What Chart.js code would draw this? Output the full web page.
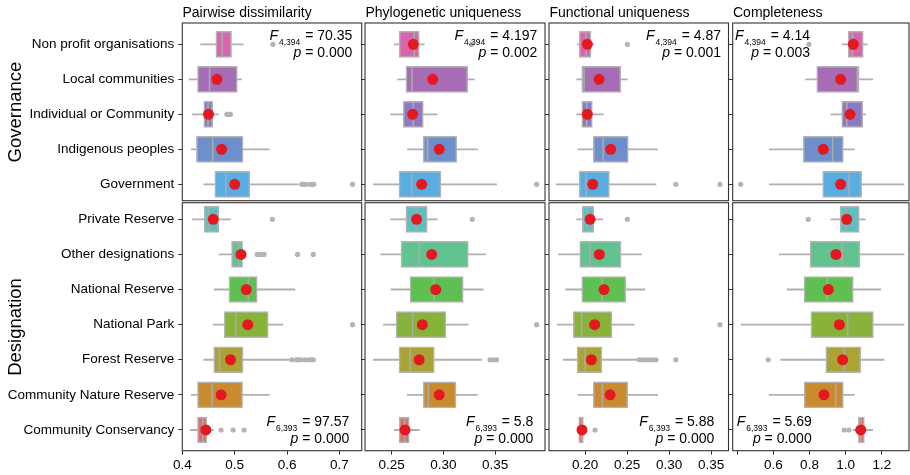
<!DOCTYPE html>
<html>
<head>
<meta charset="utf-8">
<script src="https://cdn.jsdelivr.net/npm/chart.js@4.4.1/dist/chart.umd.min.js"></script>
<style>
html,body{margin:0;padding:0;background:#fff;overflow:hidden;}
#wrap{position:relative;width:910px;height:475px;overflow:hidden;font-family:"Liberation Sans",Arial,Helvetica,sans-serif;color:#000;}
#wrap canvas{position:absolute;left:0;top:0;}
.title{position:absolute;top:4px;font-size:14px;line-height:16px;white-space:nowrap;z-index:5;}
.rowlab{position:absolute;font-size:18.5px;line-height:22px;white-space:nowrap;transform:translate(-50%,-50%) rotate(-90deg);z-index:5;}
.ann{position:absolute;font-size:14px;line-height:17px;text-align:right;white-space:nowrap;z-index:5;}
.ann i{font-style:italic;}
.ann .s{font-size:8.5px;position:relative;top:5px;line-height:0;margin-left:1px;margin-right:1px;}
</style>
</head>
<body>
<div id="wrap">
  <div class="title" style="left:182.5px">Pairwise dissimilarity</div>
  <div class="title" style="left:365.5px">Phylogenetic uniqueness</div>
  <div class="title" style="left:549.5px">Functional uniqueness</div>
  <div class="title" style="left:733px">Completeness</div>
  <div class="rowlab" style="left:15px;top:111.7px">Governance</div>
  <div class="rowlab" style="left:15px;top:327px">Designation</div>

  <div class="ann" style="right:557.7px;top:26.5px"><i>F</i><span class="s">4,394</span> = 70.35<br><i>p</i> = 0.000</div>
  <div class="ann" style="right:372.7px;top:26.5px"><i>F</i><span class="s">4,394</span> = 4.197<br><i>p</i> = 0.002</div>
  <div class="ann" style="right:189px;top:26.5px"><i>F</i><span class="s">4,394</span> = 4.87<br><i>p</i> = 0.001</div>
  <div class="ann" style="right:100px;top:26.5px"><i>F</i><span class="s">4,394</span> = 4.14<br><i>p</i> = 0.003</div>

  <div class="ann" style="right:560.7px;top:412.5px"><i>F</i><span class="s">6,393</span> = 97.57<br><i>p</i> = 0.000</div>
  <div class="ann" style="right:376.7px;top:412.5px"><i>F</i><span class="s">6,393</span> = 5.8<br><i>p</i> = 0.000</div>
  <div class="ann" style="right:195.7px;top:412.5px"><i>F</i><span class="s">6,393</span> = 5.88<br><i>p</i> = 0.000</div>
  <div class="ann" style="right:98.3px;top:412.5px"><i>F</i><span class="s">6,393</span> = 5.69<br><i>p</i> = 0.000</div>
</div>
<script>
// ---------- categories ----------
const governance = ['Non profit organisations','Local communities','Individual or Community','Indigenous peoples','Government'];
const designation = ['Private Reserve','Other designations','National Reserve','National Park','Forest Reserve','Community Nature Reserve','Community Conservancy'];

// ---------- tick labels ----------
const pairwiseTicks = [0.4, 0.5, 0.6, 0.7];
const phyloTicks = [0.25, 0.30, 0.35];
const functionalTicks = [0.20, 0.25, 0.30, 0.35];
const completenessTicks = [0.4, 0.6, 0.8, 1.0, 1.2];

// ---------- data: [lower whisker, Q1, median, Q3, upper whisker] ----------
const pairwiseGovStats = [[0.435,0.464,0.476,0.494,0.516],[0.413,0.429,0.452,0.505,0.513],[0.419,0.441,0.449,0.458,0.469],[0.417,0.427,0.458,0.516,0.566],[0.441,0.462,0.483,0.529,0.621]];
const pairwiseGovMeans = [null,0.466,0.450,0.475,0.500];
const pairwiseGovOutliers = [[0.573],[],[0.485,0.488,0.490,0.492],[],[0.628,0.632,0.636,0.644,0.648,0.651,0.725]];

const pairwiseDesStats = [[0.419,0.442,0.450,0.470,0.492],[0.470,0.494,0.507,0.515,0.518],[0.461,0.489,0.526,0.543,0.615],[0.459,0.480,0.502,0.564,0.592],[0.441,0.460,0.471,0.516,0.604],[0.417,0.429,0.457,0.515,0.566],[0.415,0.429,0.439,0.447,0.459]];
const pairwiseDesMeans = [0.459,0.512,0.522,0.525,0.492,0.474,0.445];
const pairwiseDesOutliers = [[0.572],[0.543,0.548,0.552,0.556,0.620,0.650],[],[0.725],[0.609,0.618,0.622,0.626,0.634,0.642,0.646,0.650],[],[0.474,0.497,0.518]];

const phyloGovStats = [[0.2525,0.2573,0.2719,0.2767,0.2815],[0.2558,0.2638,0.2696,0.3235,0.3299],[0.2490,0.2612,0.2709,0.2806,0.2941],[0.2651,0.2806,0.2848,0.3129,0.3332],[0.2322,0.2571,0.2693,0.2977,0.3515]];
const phyloGovMeans = [0.2709,0.2897,0.2703,0.2960,0.2790];
const phyloGovOutliers = [[0.3274],[],[],[],[0.3902]];

const phyloDesStats = [[0.2490,0.2638,0.2735,0.2844,0.2941],[0.2394,0.2590,0.2767,0.3241,0.3409],[0.2493,0.2677,0.2909,0.3192,0.3386],[0.2419,0.2542,0.2703,0.3025,0.3241],[0.2322,0.2571,0.2677,0.2912,0.3370],[0.2651,0.2806,0.2854,0.3122,0.3328],[0.2525,0.2573,0.2625,0.2670,0.2767]];
const phyloDesMeans = [0.2741,0.2887,0.2926,0.2796,0.2766,0.2960,0.2629];
const phyloDesOutliers = [[0.3280],[],[],[0.3902],[0.3451,0.3483,0.3515],[],[]];

const functionalGovStats = [[0.1908,0.1932,0.2012,0.2071,0.2099],[0.1901,0.1961,0.1988,0.2425,0.2504],[0.1901,0.1961,0.2020,0.2087,0.2218],[0.1917,0.2099,0.2214,0.2515,0.2865],[0.1658,0.1930,0.2012,0.2290,0.2845]];
const functionalGovMeans = [0.2027,0.2167,0.2027,0.2306,0.2092];
const functionalGovOutliers = [[0.2504],[],[],[],[0.3080,0.3607]];

const functionalDesStats = [[0.1901,0.1968,0.2032,0.2104,0.2211],[0.1682,0.1937,0.2060,0.2429,0.2675],[0.1770,0.1961,0.2202,0.2485,0.2714],[0.1670,0.1861,0.1961,0.2321,0.2587],[0.1742,0.1905,0.2000,0.2202,0.2615],[0.1917,0.2099,0.2206,0.2508,0.2865],[0.1915,0.1925,0.1961,0.1980,0.1990]];
const functionalDesMeans = [0.2060,0.2170,0.2226,0.2115,0.2075,0.2298,0.1964];
const functionalDesOutliers = [[0.2504],[],[],[0.3607],[0.2646,0.2687,0.2726,0.2766,0.2806,0.2845,0.3080],[],[0.2119]];

const completenessGovStats = [[0.981,1.014,1.037,1.097,1.119],[0.779,0.840,1.064,1.074,1.149],[0.919,0.978,1.006,1.094,1.111],[0.578,0.766,0.928,0.987,1.048],[0.578,0.873,1.018,1.088,1.322]];
const completenessGovMeans = [1.042,0.972,1.024,0.876,0.972];
const completenessGovOutliers = [[0.797],[],[],[],[0.420]];

const completenessDesStats = [[0.919,0.969,1.002,1.075,1.107],[0.633,0.803,0.981,1.079,1.322],[0.677,0.770,0.898,1.042,1.193],[0.422,0.808,1.011,1.153,1.322],[0.641,0.890,0.992,1.083,1.212],[0.578,0.771,0.945,0.987,1.048],[1.042,1.070,1.085,1.103,1.149]];
const completenessDesMeans = [1.006,0.946,0.904,0.965,0.983,0.880,1.083];
const completenessDesOutliers = [[0.793],[],[],[],[0.572],[],[0.992,1.018]];

// ---------- styling / layout ----------
const govColors = ['#d965ae','#a66db4','#8b7bc4','#6e8fcb','#58ade2'];
const desColors = ['#5ebfc1','#61c38f','#60bf52','#87b33a','#aaa437','#c98a30','#e06c6c'];
const colX = [[182.3,361.7],[365,545],[549,728.5],[732.7,909]];
const rowY = [[23,200.7],[202.7,450.7]];
const rowRange = [[-0.609,4.468],[-0.473,6.59]];
const colRange = [[0.4,0.7424],[0.2242,0.3983],[0.1571,0.3708],[0.3757,1.3497]];

const panels = [
  {col:0,row:0,cats:governance,colors:govColors,stats:pairwiseGovStats,means:pairwiseGovMeans,outs:pairwiseGovOutliers,ticks:pairwiseTicks,fmt:v=>v.toFixed(1)},
  {col:1,row:0,cats:governance,colors:govColors,stats:phyloGovStats,means:phyloGovMeans,outs:phyloGovOutliers,ticks:phyloTicks,fmt:v=>v.toFixed(2)},
  {col:2,row:0,cats:governance,colors:govColors,stats:functionalGovStats,means:functionalGovMeans,outs:functionalGovOutliers,ticks:functionalTicks,fmt:v=>v.toFixed(2)},
  {col:3,row:0,cats:governance,colors:govColors,stats:completenessGovStats,means:completenessGovMeans,outs:completenessGovOutliers,ticks:completenessTicks,fmt:v=>v<0.5?'':v.toFixed(1)},
  {col:0,row:1,cats:designation,colors:desColors,stats:pairwiseDesStats,means:pairwiseDesMeans,outs:pairwiseDesOutliers,ticks:pairwiseTicks,fmt:v=>v.toFixed(1)},
  {col:1,row:1,cats:designation,colors:desColors,stats:phyloDesStats,means:phyloDesMeans,outs:phyloDesOutliers,ticks:phyloTicks,fmt:v=>v.toFixed(2)},
  {col:2,row:1,cats:designation,colors:desColors,stats:functionalDesStats,means:functionalDesMeans,outs:functionalDesOutliers,ticks:functionalTicks,fmt:v=>v.toFixed(2)},
  {col:3,row:1,cats:designation,colors:desColors,stats:completenessDesStats,means:completenessDesMeans,outs:completenessDesOutliers,ticks:completenessTicks,fmt:v=>v<0.5?'':v.toFixed(1)}
];

Chart.defaults.font.family = '"Liberation Sans", Arial, Helvetica, sans-serif';

const frame = {
  id:'frame',
  afterDraw(c){
    const a=c.chartArea, x=c.ctx;
    x.save(); x.strokeStyle='#333'; x.lineWidth=1.1;
    x.strokeRect(a.left,a.top,a.right-a.left,a.bottom-a.top);
    x.restore();
  }
};

const wrap = document.getElementById('wrap');

function build(p){
  const cv=document.createElement('canvas'); cv.width=910; cv.height=475;
  wrap.appendChild(cv);
  const [L,R]=colX[p.col], [T,B]=rowY[p.row], [ymin,ymax]=rowRange[p.row], [xmin,xmax]=colRange[p.col];
  const yW = p.col===0 ? L : 10;
  const xH = p.row===1 ? 24 : 0;
  const whiskers = p.stats.map((s,i)=>({x:[s[0],s[4]], y:i}));
  const boxes = p.stats.map((s,i)=>({x:[s[1],s[3]], y:i}));
  const medians = p.stats.map((s,i)=>({x:s[2], y:i}));
  const outliers = p.outs.flatMap((o,i)=>o.map(v=>({x:v, y:i})));
  const means = p.means.map((m,i)=>m==null?null:{x:m, y:i}).filter(d=>d);
  const noPad = s=>{s.paddingLeft=0;s.paddingRight=0;s.paddingTop=0;s.paddingBottom=0;};
  new Chart(cv,{
    type:'bar',
    data:{datasets:[
      {type:'bar', indexAxis:'y', data:whiskers, backgroundColor:'#b0b0b0', barThickness:1.2, grouped:false, order:5},
      {type:'bar', indexAxis:'y', data:boxes, backgroundColor:p.colors, borderColor:'#b4b4b4', borderWidth:1.5, borderSkipped:false, barThickness:26, grouped:false, order:4},
      {type:'scatter', data:medians, pointStyle:'line', pointRotation:90, pointRadius:12.5, pointBorderColor:'#ababab', pointBorderWidth:1.6, order:3},
      {type:'scatter', data:outliers, pointRadius:2.6, pointBackgroundColor:'#b4b4b4', pointBorderWidth:0, order:2},
      {type:'scatter', data:means, pointRadius:5.5, pointBackgroundColor:'#e3191f', pointBorderWidth:0, order:1}
    ]},
    options:{
      responsive:false, animation:false, devicePixelRatio:1, events:[],
      indexAxis:'y',
      layout:{autoPadding:false, padding:{left:L-yW, right:910-R, top:T, bottom:475-B-xH}},
      plugins:{legend:{display:false}, tooltip:{enabled:false}},
      scales:{
        x:{type:'linear', position:'bottom', min:xmin, max:xmax, display:p.row===1, offset:false,
          afterBuildTicks:s=>{s.ticks=p.ticks.map(v=>({value:v}));},
          afterFit:s=>{s.height=xH; noPad(s);},
          ticks:{callback:v=>p.fmt(v), autoSkip:false, maxRotation:0, minRotation:0, padding:2, color:'#000', font:{size:13.5}},
          grid:{display:true, drawOnChartArea:false, drawTicks:true, tickLength:4, color:'#333', offset:false},
          border:{display:false}},
        y:{type:'linear', position:'left', min:ymin, max:ymax, reverse:true, offset:false,
          afterBuildTicks:s=>{s.ticks=p.cats.map((c,i)=>({value:i}));},
          afterFit:s=>{s.width=yW; noPad(s);},
          ticks:{display:p.col===0, callback:v=>p.cats[v], autoSkip:false, padding:4, color:'#000', font:{size:13.5}},
          grid:{display:true, drawOnChartArea:false, drawTicks:true, tickLength:4, color:'#333', offset:false},
          border:{display:false}}
      }
    },
    plugins:[frame]
  });
}
panels.forEach(build);
</script>
</body>
</html>
